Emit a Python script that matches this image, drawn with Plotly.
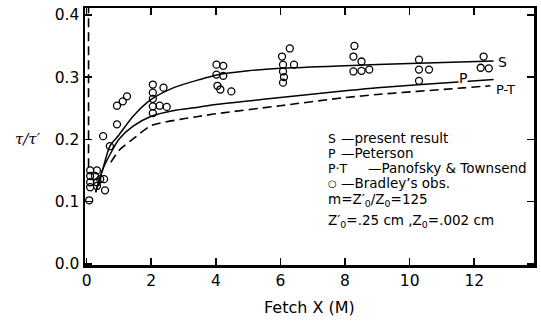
import plotly.graph_objects as go

# ---- data ----
s_x = [0.28, 0.5, 0.72, 1.0, 1.44, 2.0, 2.7, 3.5, 4.0, 5.0, 6.0, 8.0, 10.0, 12.6]
s_y = [0.115, 0.152, 0.189, 0.207, 0.237, 0.264, 0.283, 0.296, 0.303, 0.310, 0.314, 0.318, 0.322, 0.326]

p_x = [0.28, 0.5, 0.75, 1.0, 1.44, 2.0, 2.67, 3.5, 4.0, 6.0, 8.0, 9.0, 11.5, 12.6]
p_y = [0.115, 0.152, 0.178, 0.200, 0.221, 0.237, 0.246, 0.252, 0.256, 0.267, 0.278, 0.283, 0.292, 0.296]

pt_x = [0.75, 1.0, 1.5, 2.0, 2.9, 3.5, 4.0, 6.0, 8.0, 9.0, 11.5, 12.5]
pt_y = [0.163, 0.182, 0.203, 0.222, 0.232, 0.237, 0.241, 0.254, 0.267, 0.272, 0.282, 0.286]

pt_branch_x = [0.06, 0.06]
pt_branch_y = [0.155, 0.411]

bradley_x = [0.11, 0.32, 0.11, 0.26, 0.42, 0.11, 0.32, 0.11, 0.32, 0.54, 0.57, 0.08,
             0.51, 0.72, 0.94, 0.94, 1.12, 1.25,
             2.05, 2.05, 2.05, 2.05, 2.05, 2.26, 2.48, 2.38,
             4.02, 4.23, 4.02, 4.23, 4.05, 4.14, 4.48,
             6.05, 6.29, 6.08, 6.42, 6.08, 6.11, 6.08,
             8.29, 8.26, 8.51, 8.26, 8.51, 8.75,
             10.29, 10.29, 10.60, 10.29,
             12.29, 12.20, 12.45]
bradley_y = [0.150, 0.150, 0.141, 0.141, 0.136, 0.131, 0.131, 0.123, 0.125, 0.136, 0.118, 0.102,
             0.205, 0.189, 0.224, 0.254, 0.261, 0.269,
             0.288, 0.275, 0.265, 0.253, 0.242, 0.254, 0.252, 0.283,
             0.320, 0.318, 0.304, 0.302, 0.286, 0.280, 0.277,
             0.333, 0.346, 0.320, 0.320, 0.309, 0.300, 0.291,
             0.350, 0.333, 0.325, 0.309, 0.310, 0.312,
             0.328, 0.312, 0.312, 0.294,
             0.333, 0.315, 0.314]

x_ticks = [0, 2, 4, 6, 8, 10, 12]
y_ticks = [0.0, 0.1, 0.2, 0.3, 0.4]

FONT = "DejaVu Sans"

fig = go.Figure()
fig.add_trace(go.Scatter(x=s_x, y=s_y, mode="lines",
                         line=dict(color="black", width=1.5, shape="spline", smoothing=0.7)))
fig.add_trace(go.Scatter(x=p_x, y=p_y, mode="lines",
                         line=dict(color="black", width=1.5, shape="spline", smoothing=0.7)))
fig.add_trace(go.Scatter(x=pt_x, y=pt_y, mode="lines",
                         line=dict(color="black", width=1.6, dash="9px,5px", shape="spline", smoothing=0.7)))
fig.add_trace(go.Scatter(x=pt_branch_x, y=pt_branch_y, mode="lines",
                         line=dict(color="black", width=1.6, dash="9px,5px")))
fig.add_trace(go.Scatter(x=bradley_x, y=bradley_y, mode="markers",
                         marker=dict(symbol="circle-open", size=7, color="black",
                                     line=dict(width=1.3, color="black"))))

ann = []
# curve labels
ann.append(dict(x=12.66, y=0.325, text="S", xanchor="left", yanchor="middle", showarrow=False,
                font=dict(family=FONT, size=14, color="black")))
ann.append(dict(x=11.49, y=0.299, text="P", xanchor="left", yanchor="middle", showarrow=False,
                bgcolor="white", borderpad=0, font=dict(family=FONT, size=14, color="black")))
ann.append(dict(x=12.62, y=0.280, text="P-T", xanchor="left", yanchor="middle", showarrow=False,
                font=dict(family=FONT, size=13, color="black")))

# key text
lf = dict(family=FONT, size=13.5, color="black")
rows_y = [0.2016, 0.1776, 0.1536, 0.1296]
syms = ["S", "P", "P·T", "○"]
descr = ["—present result", "—Peterson", "—Panofsky &amp; Townsend", "—Bradley’s obs."]
dash_x = [7.80, 7.80, 8.66, 7.80]
for yy, s, d, dx in zip(rows_y, syms, descr, dash_x):
    ann.append(dict(x=7.40, y=yy, text=s, xanchor="left", yanchor="middle", showarrow=False,
                    font=dict(family=FONT, size=(10 if s == "○" else 12.5), color="black")))
    ann.append(dict(x=dx, y=yy, text=d, xanchor="left", yanchor="middle", showarrow=False, font=lf))
ann.append(dict(x=7.40, y=0.1024, text="m=Z′<sub>0</sub>/Z<sub>0</sub>=125", xanchor="left",
                yanchor="middle", showarrow=False, font=lf))
ann.append(dict(x=7.40, y=0.0688, text="Z′<sub>0</sub>=.25 cm ,Z<sub>0</sub>=.002 cm", xanchor="left",
                yanchor="middle", showarrow=False, font=lf))

# axis titles
ann.append(dict(xref="paper", yref="paper", x=0.5, y=-0.167, text="Fetch X (M)", showarrow=False,
                xanchor="center", yanchor="middle", font=dict(family=FONT, size=16, color="black")))
ann.append(dict(xref="paper", yref="paper", x=-0.126, y=0.49, text="<i>τ/τ′</i>", showarrow=False,
                xanchor="center", yanchor="middle", font=dict(family="DejaVu Serif", size=15, color="black")))

fig.update_layout(
    width=541, height=322,
    margin=dict(l=85, r=4, t=8, b=57),
    paper_bgcolor="white", plot_bgcolor="white",
    showlegend=False,
    hovermode=False,
    annotations=ann,
    font=dict(family=FONT, size=15, color="black"),
)
fig.update_xaxes(range=[-0.05, 13.85], tickvals=x_ticks, ticktext=[str(v) for v in x_ticks],
                 ticks="inside", ticklen=7, tickwidth=1.5, tickcolor="black",
                 showline=True, linewidth=2.5, linecolor="black", mirror="ticks",
                 showgrid=False, zeroline=False, tickfont=dict(family=FONT, size=15.5))
fig.update_yaxes(range=[-0.002, 0.411], tickvals=y_ticks, ticktext=["%.1f" % v for v in y_ticks],
                 ticks="inside", ticklen=7, tickwidth=1.5, tickcolor="black",
                 showline=True, linewidth=2.5, linecolor="black", mirror="ticks",
                 showgrid=False, zeroline=False, tickfont=dict(family=FONT, size=15.5))

fig.write_html("out.html", config={"displayModeBar": False, "staticPlot": True},
               post_script="document.body.style.margin='0';document.body.style.padding='0';")
